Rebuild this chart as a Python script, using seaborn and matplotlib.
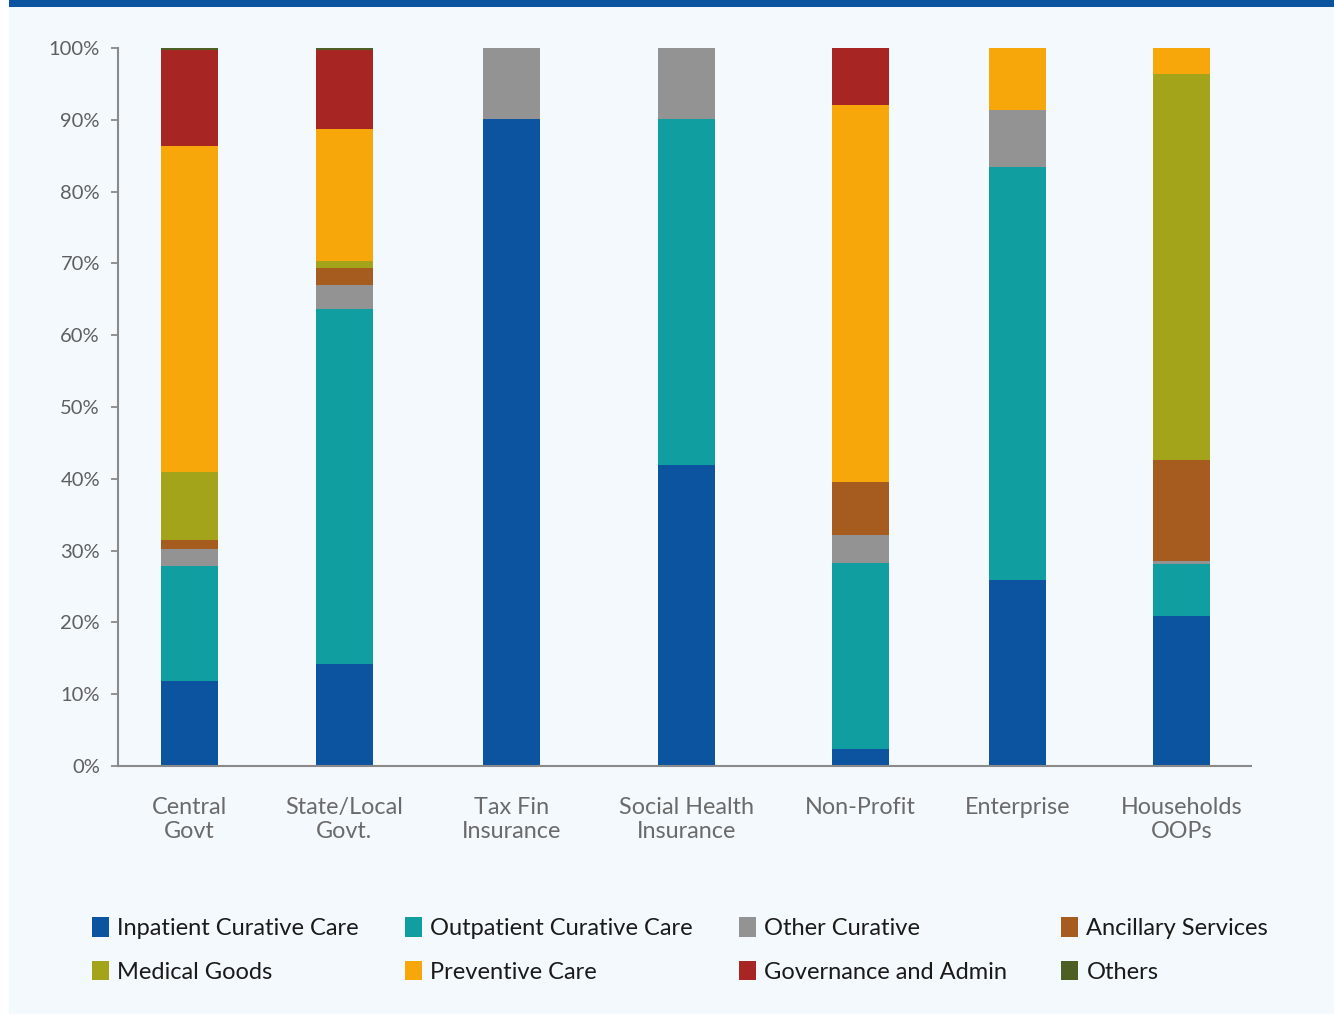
import matplotlib
matplotlib.use("Agg")
import matplotlib.pyplot as plt
from matplotlib.patches import Rectangle, Patch
import seaborn as sns
import pandas as pd
import numpy as np

categories = ["Central\nGovt", "State/Local\nGovt.", "Tax Fin\nInsurance", "Social Health\nInsurance",
              "Non-Profit", "Enterprise", "Households\nOOPs"]
series_names = ["Inpatient Curative Care", "Outpatient Curative Care", "Other Curative",
                "Ancillary Services", "Medical Goods", "Preventive Care",
                "Governance and Admin", "Others"]
inpatient  = [11.8, 14.2, 90.1, 41.9,  2.4, 25.9, 20.9]
outpatient = [16.1, 49.4,  0.0, 48.2, 25.9, 57.5,  7.2]
other_cur  = [ 2.3,  3.4,  9.9,  9.9,  3.9,  8.0,  0.5]
ancillary  = [ 1.3,  2.4,  0.0,  0.0,  7.4,  0.0, 14.0]
medical    = [ 9.5,  0.9,  0.0,  0.0,  0.0,  0.0, 53.8]
preventive = [45.4, 18.4,  0.0,  0.0, 52.5,  8.6,  3.6]
governance = [13.3, 11.0,  0.0,  0.0,  7.9,  0.0,  0.0]
others     = [ 0.4,  0.3,  0.0,  0.0,  0.0,  0.0,  0.0]
colors = ["#0c53a0", "#119ea0", "#939393", "#a55c1e", "#a3a41a", "#f7a70a", "#a72523", "#4e5f23"]
y_ticks = [0, 10, 20, 30, 40, 50, 60, 70, 80, 90, 100]

# layout: horizontal slot positions of the bars (uneven, as in the original)
slot_pos = [0.0, 0.938, 1.948, 3.007, 4.06, 5.01, 6.0]
boundary_ticks = [-0.43, 0.45, 1.45, 2.49, 3.55, 4.52, 5.48, 6.42]

series = [inpatient, outpatient, other_cur, ancillary, medical, preventive, governance, others]
cum = np.cumsum(np.array(series), axis=0)

sns.set_theme(style="white")
plt.rcParams['font.family'] = ['Lato', 'DejaVu Sans']

W, H = 1334, 1014
fig = plt.figure(figsize=(W / 100, H / 100), dpi=100, facecolor="white")
bg = "#f4f9fd"
fig.patches.append(Rectangle((9 / W, 0 / H), 1 - 9 / W, 1 - 2 / H, transform=fig.transFigure,
                             facecolor=bg, edgecolor="none", zorder=-2))
fig.patches.append(Rectangle((9 / W, 1 - 7 / H), 1 - 9 / W, 7 / H, transform=fig.transFigure,
                             facecolor="#0c53a0", edgecolor="none", zorder=-1))

ax = fig.add_axes([118 / W, (H - 766) / H, (1251 - 118) / W, (766 - 48) / H])
ax.set_facecolor("none")

min_gap = min(np.diff(slot_pos))
for i in range(len(series) - 1, -1, -1):
    df = pd.DataFrame({"pos": slot_pos, "val": cum[i]})
    sns.barplot(data=df, x="pos", y="val", native_scale=True, color=colors[i],
                width=0.345 / min_gap, ax=ax, saturation=1, linewidth=0)

ax.set_xlim(-0.43, 6.42)
ax.set_ylim(0, 100)
ax.set_xlabel("")
ax.set_ylabel("")
ax.set_yticks(y_ticks)
ax.set_yticklabels([f"{t}%" for t in y_ticks], fontsize=14.5, color="#5f5f5f")
ax.set_xticks(slot_pos)
ax.set_xticklabels(categories, fontsize=16.8, color="#6a6a6a", linespacing=1.22)
ax.tick_params(axis="x", which="major", length=0, pad=22)
ax.set_xticks(boundary_ticks, minor=True)
ax.tick_params(axis="x", which="minor", length=8, width=1.3, color="#8a8a8a", direction="out")
ax.tick_params(axis="y", length=5, width=1.3, color="#8a8a8a", direction="out", pad=8, left=True)
for s in ["top", "right"]:
    ax.spines[s].set_visible(False)
for s in ["left", "bottom"]:
    ax.spines[s].set_color("#8a8a8a")
    ax.spines[s].set_linewidth(1.5)

# legend: four columns, two rows
col_x = [83, 396, 730, 1052]
order = [[0, 4], [1, 5], [2, 6], [3, 7]]
for cx, idxs in zip(col_x, order):
    handles = [Patch(facecolor=colors[j], edgecolor="none") for j in idxs]
    labels = [series_names[j] for j in idxs]
    leg = fig.legend(handles, labels, loc="upper left", bbox_to_anchor=(cx / W, 1 - 908 / H),
                     frameon=False, fontsize=17, handlelength=0.68, handleheight=0.9,
                     handletextpad=0.38, labelspacing=0.9, borderaxespad=0)
    for t in leg.get_texts():
        t.set_color("#1a1a1a")

fig.savefig("out.png", dpi=100, facecolor=fig.get_facecolor())
